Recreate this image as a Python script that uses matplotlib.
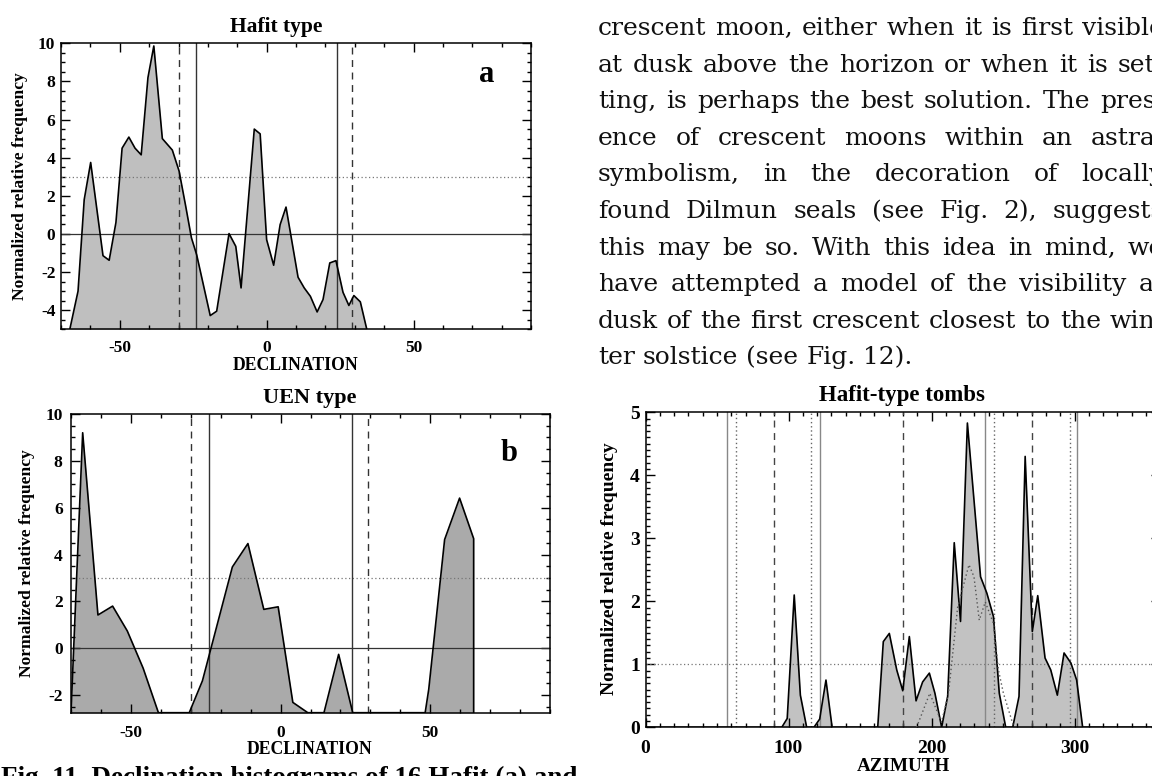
import matplotlib
matplotlib.use('Agg')
import matplotlib.pyplot as plt
from matplotlib.ticker import MultipleLocator

W, H = 1152, 776

# ---------------- data ----------------
# Panel a: Hafit type, declination histogram
dec_a = [-67.0, -64.2, -62.1, -59.9, -55.7, -53.6, -51.3, -49.2, -46.9, -44.8,
         -42.7, -40.4, -38.4, -35.5, -32.1, -29.8, -27.6, -25.6, -23.8, -19.2,
         -17.0, -12.8, -10.5, -8.7, -4.2, -2.2, 0.0, 2.4, 4.6, 6.6,
         10.7, 12.8, 14.9, 17.2, 19.2, 21.5, 23.6, 26.0, 28.0, 29.7,
         31.9, 34.1]
freq_a = [-5.0, -3.0, 1.8, 3.75, -1.14, -1.38, 0.6, 4.5, 5.08, 4.5,
          4.15, 8.2, 9.86, 5.0, 4.4, 3.3, 1.5, -0.2, -1.1, -4.28,
          -4.05, 0.02, -0.65, -2.83, 5.5, 5.25, -0.3, -1.64, 0.49, 1.41,
          -2.27, -2.83, -3.27, -4.09, -3.44, -1.52, -1.40, -3.06, -3.75, -3.23,
          -3.56, -5.0]

# Panel b: UEN type, declination histogram
dec_b = [-70.0, -66.1, -61.0, -56.1, -51.2, -45.9, -40.8, -30.5, -26.1, -16.1,
         -10.9, -5.6, -0.8, 4.1, 9.1, 14.5, 19.4, 24.1, 48.3, 49.5,
         54.8, 59.8, 64.5, 64.5]
freq_b = [-2.75, 9.2, 1.42, 1.8, 0.74, -0.85, -2.75, -2.75, -1.39, 3.47,
          4.47, 1.66, 1.77, -2.31, -2.75, -2.75, -0.26, -2.75, -2.75, -1.75,
          4.64, 6.41, 4.68, -2.75]

# Panel c: Hafit-type tombs, azimuth histogram
az_c = [0.0, 95.3, 99.1, 104.0, 108.3, 112.7, 117.8, 121.8, 126.2, 130.5,
        162.4, 166.3, 170.5, 175.7, 179.9, 184.5, 189.2, 193.8, 198.5, 202.4,
        207.1, 211.3, 215.9, 220.3, 225.1, 234.3, 238.7, 243.3, 247.4, 251.9,
        256.8, 261.2, 265.5, 270.5, 274.3, 279.4, 283.4, 288.0, 292.7, 297.5,
        301.5, 305.7, 360.0]
freq_c = [0.0, 0.0, 0.14, 2.1, 0.51, 0.0, 0.0, 0.13, 0.75, 0.0,
          0.0, 1.36, 1.49, 0.91, 0.58, 1.44, 0.42, 0.72, 0.86, 0.54,
          0.0, 0.49, 2.93, 1.68, 4.83, 2.39, 2.13, 1.76, 0.54, 0.0,
          0.0, 0.49, 4.3, 1.52, 2.09, 1.1, 0.91, 0.51, 1.18, 1.02,
          0.75, 0.0, 0.0]
az_dot = [189.6, 198.8, 207.0, 211.9, 218.3, 226.2, 229.7, 233.4, 237.6, 243.3,
          246.8, 250.3, 257.2]
freq_dot = [0.0, 0.54, 0.08, 0.54, 1.91, 2.58, 2.39, 1.70, 1.99, 1.65,
            0.91, 0.54, 0.03]

dec_solid = [-24.0, 24.0]
dec_dashed = [-30.0, 29.2]
az_solid = [57.3, 122.3, 237.1, 302.0]
az_dotted = [63.4, 115.7, 243.8, 296.6]
az_dashed = [90.0, 180.0, 270.0]

para_lines = [
    "crescent moon, either when it is first visible",
    "at dusk above the horizon or when it is set-",
    "ting, is perhaps the best solution. The pres-",
    "ence of crescent moons within an astral",
    "symbolism, in the decoration of locally",
    "found Dilmun seals (see Fig. 2), suggests",
    "this may be so. With this idea in mind, we",
    "have attempted a model of the visibility at",
    "dusk of the first crescent closest to the win-",
    "ter solstice (see Fig. 12).",
]
caption = "Fig. 11. Declination histograms of 16 Hafit (a) and"

# ---------------- style ----------------
plt.rcParams['font.family'] = ['Liberation Serif', 'DejaVu Serif']
plt.rcParams['font.weight'] = 'bold'
plt.rcParams['axes.unicode_minus'] = False

fig = plt.figure(figsize=(W / 100, H / 100), dpi=100)
fig.patch.set_facecolor('white')


def add_ax(x0, y0, x1, y1):
    return fig.add_axes([x0 / W, 1 - y1 / H, (x1 - x0) / W, (y1 - y0) / H])


def ftext(x, y, s, **kw):
    return fig.text(x / W, 1 - y / H, s, **kw)


def style(ax, xmaj, xmin, ymaj, ymin, lsize, xpad, ypad):
    ax.xaxis.set_major_locator(MultipleLocator(xmaj))
    ax.xaxis.set_minor_locator(MultipleLocator(xmin))
    ax.yaxis.set_major_locator(MultipleLocator(ymaj))
    ax.yaxis.set_minor_locator(MultipleLocator(ymin))
    ax.tick_params(which='both', direction='in', top=True, right=True,
                   width=1.0, colors='black')
    ax.tick_params(which='major', length=6.5)
    ax.tick_params(which='minor', length=3.2)
    ax.tick_params(axis='x', pad=xpad, labelsize=lsize)
    ax.tick_params(axis='y', pad=ypad, labelsize=lsize)
    for s in ax.spines.values():
        s.set_linewidth(1.1)


# ---------------- panel a ----------------
ax_a = add_ax(61, 43.3, 531, 329.3)
ax_a.set_xlim(-70, 90)
ax_a.set_ylim(-5, 10)
ax_a.fill_between(dec_a, freq_a, -5, color='#bfbfbf', lw=0, zorder=1)
ax_a.plot(dec_a, freq_a, color='black', lw=1.2, zorder=3)
ax_a.axhline(0, color='#333333', lw=0.9, zorder=2)
ax_a.axhline(3, color='#777777', lw=0.9, ls=(0, (1, 2)), zorder=2)
for v in dec_solid:
    ax_a.axvline(v, color='#333333', lw=1.0, zorder=2)
for v in dec_dashed:
    ax_a.axvline(v, color='#333333', lw=1.0, ls=(0, (5, 4)), zorder=2)
style(ax_a, 50, 10, 2, 0.5, 12.5, 8, 4)
ftext(276, 26.7, "Hafit type", ha='center', va='center', fontsize=15.5)
ftext(296, 365, "DECLINATION", ha='center', va='center', fontsize=12.7)
ftext(20, 186, "Normalized relative frequency", ha='center', va='center',
      rotation=90, fontsize=12.6)
ftext(486.5, 74, "a", ha='center', va='center', fontsize=22)

# ---------------- panel b ----------------
ax_b = add_ax(71, 414, 550, 712.7)
ax_b.set_xlim(-70, 90)
ax_b.set_ylim(-2.75, 10)
ax_b.fill_between(dec_b, freq_b, -2.75, color='#aaaaaa', lw=0, zorder=1)
ax_b.plot(dec_b, freq_b, color='black', lw=1.2, zorder=3)
ax_b.axhline(0, color='#333333', lw=0.9, zorder=2)
ax_b.axhline(3, color='#777777', lw=0.9, ls=(0, (1, 2)), zorder=2)
for v in dec_solid:
    ax_b.axvline(v, color='#333333', lw=1.0, zorder=2)
for v in dec_dashed:
    ax_b.axvline(v, color='#333333', lw=1.0, ls=(0, (5, 4)), zorder=2)
style(ax_b, 50, 10, 2, 0.5, 12.5, 9, 6)
ftext(310, 398.3, "UEN type", ha='center', va='center', fontsize=16)
ftext(310, 750, "DECLINATION", ha='center', va='center', fontsize=12.7)
ftext(26.7, 563, "Normalized relative frequency", ha='center', va='center',
      rotation=90, fontsize=12.6)
ftext(508.7, 453.3, "b", ha='center', va='center', fontsize=22)

# ---------------- panel c ----------------
ax_c = add_ax(645.5, 412.3, 1160.3, 727.3)
ax_c.set_xlim(0, 360)
ax_c.set_ylim(0, 5)
ax_c.fill_between(az_c, freq_c, 0, color='#c2c2c2', lw=0, zorder=1)
ax_c.plot(az_c, freq_c, color='black', lw=1.2, zorder=3)
ax_c.plot(az_dot, freq_dot, color='#555555', lw=1.0, ls=(0, (1, 2)), zorder=3)
ax_c.axhline(1, color='#777777', lw=0.9, ls=(0, (1, 2)), zorder=2)
for v in az_solid:
    ax_c.axvline(v, color='#888888', lw=1.0, zorder=2)
for v in az_dotted:
    ax_c.axvline(v, color='#666666', lw=1.0, ls=(0, (1, 2)), zorder=2)
for v in az_dashed:
    ax_c.axvline(v, color='#444444', lw=1.0, ls=(0, (5, 4)), zorder=2)
style(ax_c, 100, 10, 1, 0.1, 14, 9, 4)
ftext(902, 395, "Hafit-type tombs", ha='center', va='center', fontsize=16.5)
ftext(903, 766.7, "AZIMUTH", ha='center', va='center', fontsize=13.8)
ftext(609, 569, "Normalized relative frequency", ha='center', va='center',
      rotation=90, fontsize=14)

# ---------------- body text (justified) ----------------
renderer = fig.canvas.get_renderer()
left_px, right_px = 598, 1164
base0, step = 35.0, 36.6
for i, line in enumerate(para_lines):
    yb = base0 + step * i
    words = line.split(' ')
    objs = [ftext(0, yb, w, ha='left', va='baseline', fontsize=18,
                  fontweight='normal', family='DejaVu Serif', color='#111111')
            for w in words]
    widths = [o.get_window_extent(renderer=renderer).width for o in objs]
    natural = 8.0
    if i == len(para_lines) - 1 or len(words) == 1:
        space = natural
    else:
        space = (right_px - left_px - sum(widths)) / (len(words) - 1)
        space = max(space, 5.0)
    x = left_px
    for o, w in zip(objs, widths):
        o.set_position((x / W, 1 - yb / H))
        x += w + space

# ---------------- caption (cut at bottom) ----------------
ftext(1, 785, caption, ha='left', va='baseline', fontsize=19.5)

fig.savefig('out.png', dpi=100)
